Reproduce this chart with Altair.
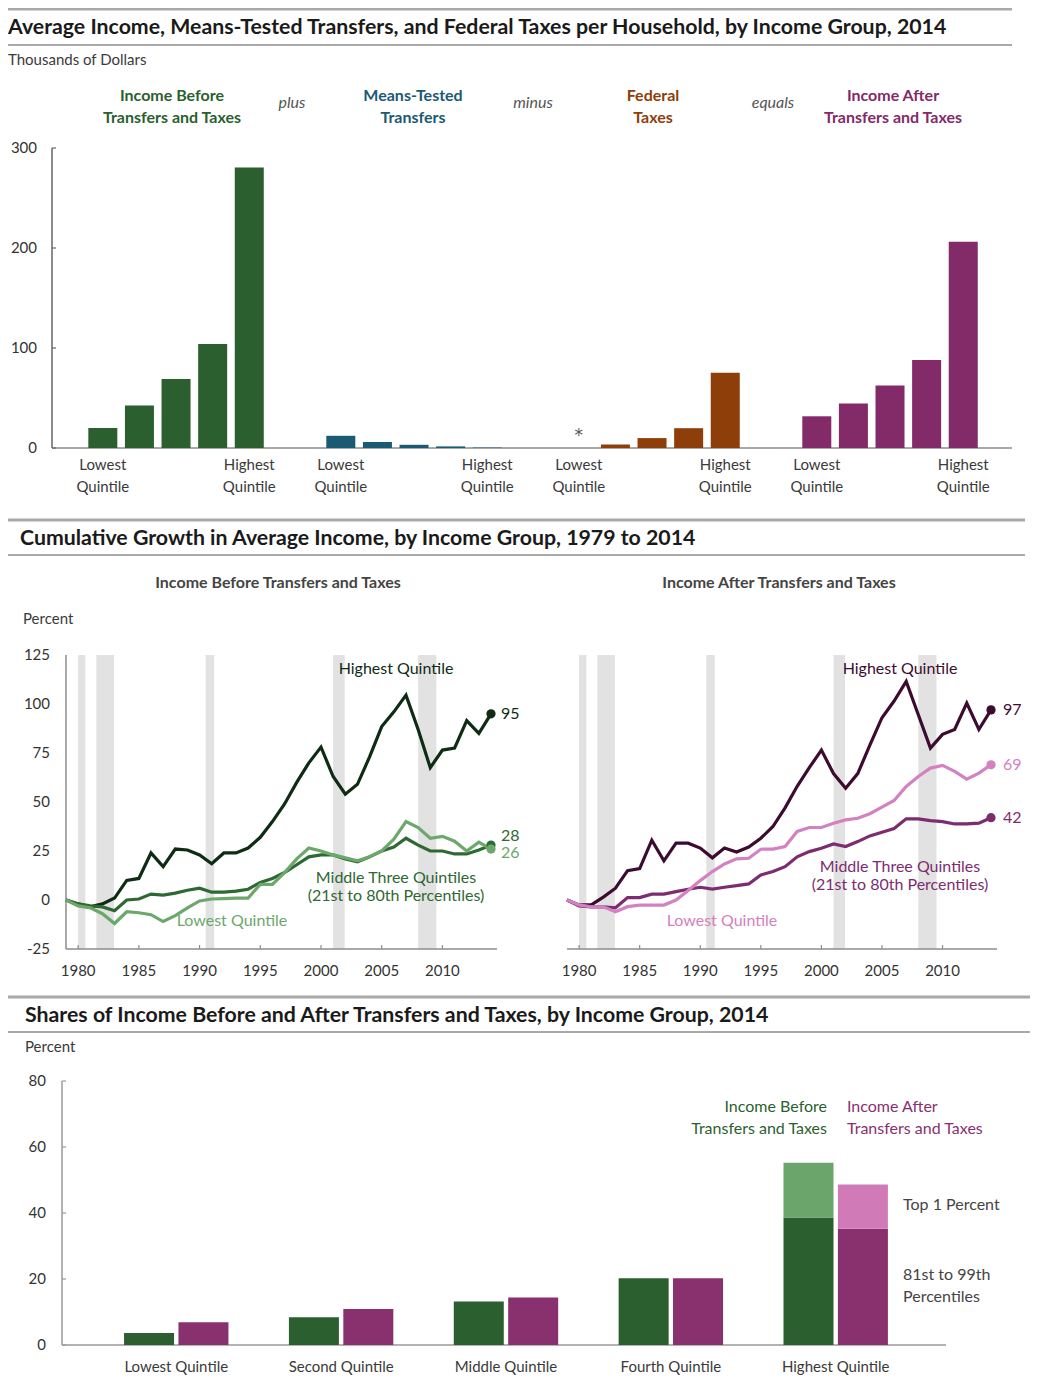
import altair as alt
import pandas as pd

W, H = 1026, 1377
FONT = "Liberation Sans Narrow, Lato, Liberation Sans, sans-serif"
TXT = "#3a3a3a"

# ---------------- data ----------------
quintile_names = ["Lowest Quintile", "Second Quintile", "Middle Quintile", "Fourth Quintile", "Highest Quintile"]
measure_names = ["Income Before Transfers and Taxes", "Means-Tested Transfers", "Federal Taxes",
                 "Income After Transfers and Taxes"]
# thousands of dollars, 2014
avg_before = [20.0, 42.4, 69.0, 104.0, 280.5]
avg_transfers = [12.2, 6.0, 3.2, 1.6, 0.4]
avg_taxes = [0.0, 3.5, 9.9, 19.8, 75.2]
avg_after = [31.7, 44.6, 62.4, 88.1, 206.2]

years = list(range(1979, 2015))
before_highest = [0, -2, -3.5, -2, 1, 10, 11, 24, 17, 26, 25.5, 23, 18.5, 24, 24, 26.5, 32, 40, 49, 60,
                  70, 78, 63, 54, 59, 73, 88.5, 96, 104.5, 87, 67.5, 76.5, 77.5, 91.5, 85, 95]
before_middle = [0, -2, -3, -3.5, -5.5, 0, 0.5, 3, 2.5, 3.5, 5, 6, 4, 4, 4.5, 5.5, 9, 11, 14, 18,
                 22, 23, 23, 21, 19.5, 22, 25, 27, 31.5, 28, 25, 25, 23.5, 23.5, 25.5, 28]
before_lowest = [0, -3, -4, -7, -12, -6, -6.5, -7.5, -11, -8, -4, -0.5, 0.5, 0.7, 1, 1, 8, 8, 14, 21,
                 26.5, 25, 23, 21.5, 20, 22, 25, 31, 40, 37, 31.5, 32.5, 30, 25, 29.5, 26]
after_highest = [0, -2.5, -2.5, 1.5, 6, 15, 16, 30.5, 20, 29, 29, 26.5, 21.5, 26.5, 24.5, 27, 31.5, 37.5,
                 47, 58, 67.5, 76.5, 64.5, 57, 64.5, 79, 93, 101.5, 111.5, 94.5, 77.5, 84.5, 87, 100.5, 87, 97]
after_middle = [0, -3, -3.5, -3.5, -4, 1.2, 1.2, 3, 3, 4.3, 5.5, 6.5, 5.6, 6.5, 7.3, 8.2, 12.8, 14.5, 17,
                22, 24.7, 26.4, 28.6, 27.3, 29.8, 32.7, 34.6, 36.5, 41.4, 41.4, 40.5, 40, 38.8, 38.8, 39.2, 42]
after_lowest = [0, -2.5, -3.5, -3.5, -6, -3.4, -2.6, -2.6, -2.6, 0, 4.8, 9.9, 14.5, 18.4, 21, 21.3, 25.9,
                26, 27.3, 35, 37, 37, 39.2, 40.9, 41.7, 44, 47.4, 50.8, 57.9, 63, 67.3, 68.7, 65.6, 61.7,
                64.7, 69]
recession_start = [1980.0, 1981.5, 1990.5, 2001.0, 2008.0]
recession_end = [1980.6, 1982.95, 1991.2, 2001.95, 2009.5]

# percent shares, 2014
share_before = [3.6, 8.4, 13.2, 20.2, 55.2]
share_after = [6.9, 10.9, 14.4, 20.2, 48.6]
top1_before = 16.6
top1_after = 13.4

# tick labels
dollar_ticks = [0, 100, 200, 300]
growth_ticks = [-25, 0, 25, 50, 75, 100, 125]
year_ticks = [1980, 1985, 1990, 1995, 2000, 2005, 2010]
share_ticks = [0, 20, 40, 60, 80]

# ---------------- colours ----------------
C_BEFORE = "#2b5f2f"
C_TRANSF = "#1a5a72"
C_TAX = "#8e3e08"
C_AFTER = "#832a68"
AXC = "#8c8c8c"

ONE = alt.Data(values=[{"k": 0}])


def label(s, x, y, size=15, color=TXT, weight="normal", align="left", style="normal", lh=None):
    props = dict(text=s, font=FONT, fontSize=size, color=color, fontWeight=weight, align=align,
                 fontStyle=style)
    if lh is not None:
        props.update(lineBreak="\n", lineHeight=lh, baseline="alphabetic")
    else:
        props.update(baseline="middle")
    return alt.Chart(ONE).mark_text(**props).encode(x=alt.value(x), y=alt.value(y))


def hrule(x1, x2, y, w, color="#a9a9a9"):
    return alt.Chart(ONE).mark_rule(color=color, strokeWidth=w).encode(
        x=alt.value(x1), x2=alt.value(x2), y=alt.value(y))


def y_axis(scale, ticks, xpx, lo, hi, color=AXC, tick_len=4, lab_gap=15, with_ticks=True):
    """Vertical axis drawn through the panel's y scale."""
    dom = alt.Chart(pd.DataFrame({"a0": [lo], "a1": [hi]})).mark_rule(color=color, strokeWidth=1.5).encode(
        x=alt.value(xpx), y=alt.Y("a0:Q", scale=scale, axis=None), y2="a1:Q")
    tdf = pd.DataFrame({"v": ticks, "lab": [str(t) for t in ticks]})
    labs = alt.Chart(tdf).mark_text(font=FONT, fontSize=15, color="#333", align="right", baseline="middle").encode(
        x=alt.value(xpx - lab_gap), y=alt.Y("v:Q", scale=scale, axis=None), text="lab:N")
    out = [dom, labs]
    if with_ticks:
        out.append(alt.Chart(tdf).mark_rule(color=color, strokeWidth=1.2).encode(
            x=alt.value(xpx), x2=alt.value(xpx + tick_len), y=alt.Y("v:Q", scale=scale, axis=None)))
    return out


def x_baseline(yscale, yv, x1, x2, color=AXC):
    return alt.Chart(pd.DataFrame({"v": [yv]})).mark_rule(color=color, strokeWidth=1.5).encode(
        x=alt.value(x1), x2=alt.value(x2), y=alt.Y("v:Q", scale=yscale, axis=None))


# ---------------- section 1 : average income bars ----------------
rows = []
for gi, (m, vals) in enumerate(zip(measure_names, [avg_before, avg_transfers, avg_taxes, avg_after])):
    for qi, v in enumerate(vals):
        rows.append({"measure": m, "qi": qi, "slot": 6.5 * gi + qi, "value": v, "base": 0.0,
                     "qlab": "Lowest\nQuintile" if qi == 0 else ("Highest\nQuintile" if qi == 4 else "")})
top_df = pd.DataFrame(rows)

xs_top = alt.Scale(domain=[-1.2514, 24.695], range=[44, 1004], nice=False, zero=False)
ys_top = alt.Scale(domain=[0, 300], range=[440, 140], nice=False, zero=False)
col_top = alt.Color("measure:N", scale=alt.Scale(domain=measure_names, range=[C_BEFORE, C_TRANSF, C_TAX, C_AFTER]),
                    legend=None)

bars_top = alt.Chart(top_df).mark_bar(size=29, orient="vertical").encode(
    x=alt.X("slot:Q", scale=xs_top, axis=None),
    y=alt.Y("value:Q", scale=ys_top, axis=None),
    y2="base:Q",
    color=col_top,
)
qlabels_top = alt.Chart(top_df).transform_filter(alt.FieldOneOfPredicate(field="qi", oneOf=[0, 4])).mark_text(
    font=FONT, fontSize=15, color=TXT, lineBreak="\n", lineHeight=22, baseline="alphabetic", align="center"
).encode(x=alt.X("slot:Q", scale=xs_top, axis=None), y=alt.value(462), text="qlab:N")
star = alt.Chart(top_df).transform_filter(
    (alt.datum.measure == "Federal Taxes") & (alt.datum.qi == 0)).mark_text(
    font="DejaVu Sans", fontSize=17, color="#555", baseline="middle", dy=-12, text="*"
).encode(x=alt.X("slot:Q", scale=xs_top, axis=None), y=alt.Y("value:Q", scale=ys_top, axis=None))
panel_top = alt.layer(
    x_baseline(ys_top, 0, 44, 1004),
    bars_top, qlabels_top, star,
    *y_axis(ys_top, dollar_ticks, 44, 0, 300, color="#666"),
)

# ---------------- section 2 : cumulative growth lines ----------------
series_names = ["Highest Quintile", "Middle Three Quintiles", "Lowest Quintile"]


def growth_df(h, m, l):
    d = []
    for name, vals in zip(series_names, [h, m, l]):
        for yr, v in zip(years, vals):
            d.append({"series": name, "year": yr, "growth": v})
    return pd.DataFrame(d)


left_df = growth_df(before_highest, before_middle, before_lowest)
right_df = growth_df(after_highest, after_middle, after_lowest)
rec_df = pd.DataFrame({"start": recession_start, "end": recession_end})
yt_df = pd.DataFrame({"yr": year_ticks, "lab": [str(y) for y in year_ticks]})

ys_line = alt.Scale(domain=[-25, 125], range=[941, 647], nice=False, zero=False)


def line_panel(df, xr, colors, yaxis, label_dys, label_dx):
    xs = alt.Scale(domain=[1979, 2014], range=xr, nice=False, zero=False)
    col = alt.Color("series:N", scale=alt.Scale(domain=series_names, range=colors), legend=None)
    rec = alt.Chart(rec_df).mark_rect(color="#e2e2e2").encode(
        x=alt.X("start:Q", scale=xs, axis=None), x2="end:Q", y=alt.value(647), y2=alt.value(941))
    base = x_baseline(ys_line, -25, xr[0], xr[1] + 6)
    xticks = alt.Chart(yt_df).mark_rule(color=AXC, strokeWidth=1.2).encode(
        x=alt.X("yr:Q", scale=xs, axis=None), y=alt.value(937), y2=alt.value(941))
    xlabs = alt.Chart(yt_df).mark_text(font=FONT, fontSize=15, color="#333", baseline="middle").encode(
        x=alt.X("yr:Q", scale=xs, axis=None), y=alt.value(963), text="lab:N")
    lines = alt.Chart(df).mark_line(strokeWidth=3.2, strokeJoin="miter").encode(
        x=alt.X("year:Q", scale=xs, axis=None),
        y=alt.Y("growth:Q", scale=ys_line, axis=None),
        color=col,
    )
    last = df[df["year"] == 2014].copy()
    last["lab"] = last["growth"].round().astype(int).astype(str)
    dots = alt.Chart(last).mark_circle(size=85, opacity=1).encode(
        x=alt.X("year:Q", scale=xs, axis=None), y=alt.Y("growth:Q", scale=ys_line, axis=None), color=col)
    layers = [rec, base, xticks, xlabs]
    if yaxis:
        layers += y_axis(ys_line, growth_ticks, xr[0], -25, 125, with_ticks=False, lab_gap=16)
    layers += [lines, dots]
    for name, dy in zip(series_names, label_dys):
        layers.append(alt.Chart(last).transform_filter(alt.datum.series == name).mark_text(
            font=FONT, fontSize=16, align="left", baseline="middle", dx=label_dx, dy=dy).encode(
            x=alt.X("year:Q", scale=xs, axis=None), y=alt.Y("growth:Q", scale=ys_line, axis=None),
            text="lab:N", color=col))
    return alt.layer(*layers)


G_HI, G_MID, G_LO = "#0e2c14", "#2e6833", "#6ca86c"
P_HI, P_MID, P_LO = "#3c0b30", "#7d2c6f", "#d481c1"
panel_left = line_panel(left_df, [58, 483], [G_HI, G_MID, G_LO], True, [0, -9, 4], 10)
panel_right = line_panel(right_df, [559, 983], [P_HI, P_MID, P_LO], False, [0, 0, 0], 12)

# ---------------- section 3 : shares ----------------
srows = []
for g, q in enumerate(quintile_names):
    if g == 4:
        srows.append({"q": q, "pos": g - 0.165, "y0": 0, "y1": share_before[g] - top1_before, "part": "before"})
        srows.append({"q": q, "pos": g - 0.165, "y0": share_before[g] - top1_before, "y1": share_before[g], "part": "before_top1"})
        srows.append({"q": q, "pos": g + 0.165, "y0": 0, "y1": share_after[g] - top1_after, "part": "after"})
        srows.append({"q": q, "pos": g + 0.165, "y0": share_after[g] - top1_after, "y1": share_after[g], "part": "after_top1"})
    else:
        srows.append({"q": q, "pos": g - 0.165, "y0": 0, "y1": share_before[g], "part": "before"})
        srows.append({"q": q, "pos": g + 0.165, "y0": 0, "y1": share_after[g], "part": "after"})
share_df = pd.DataFrame(srows)
cat_df = pd.DataFrame({"q": quintile_names, "g": list(range(5))})

xs_b = alt.Scale(domain=[-0.6627, 4.6387], range=[54, 938], nice=False, zero=False)
ys_b = alt.Scale(domain=[0, 80], range=[1337, 1073], nice=False, zero=False)
bars_b = alt.Chart(share_df).mark_bar(size=50, orient="vertical").encode(
    x=alt.X("pos:Q", scale=xs_b, axis=None),
    y=alt.Y("y1:Q", scale=ys_b, axis=None),
    y2="y0:Q",
    color=alt.Color("part:N", scale=alt.Scale(domain=["before", "after", "before_top1", "after_top1"],
                                              range=[C_BEFORE, "#89306f", "#6ba56b", "#d07ab8"]), legend=None),
)
cats_b = alt.Chart(cat_df).mark_text(font=FONT, fontSize=15, color=TXT, baseline="middle").encode(
    x=alt.X("g:Q", scale=xs_b, axis=None), y=alt.value(1359), text="q:N")
panel_bottom = alt.layer(
    x_baseline(ys_b, 0, 54, 938, color="#9a9a9a"),
    bars_b, cats_b,
    *y_axis(ys_b, share_ticks, 54, 0, 80, color="#9a9a9a", lab_gap=16),
)

# ---------------- headers & annotations ----------------
rules = [hrule(0, 1004, 1, 3), hrule(0, 1004, 37, 2), hrule(0, 1017, 512, 3), hrule(0, 1017, 547, 2),
         hrule(0, 1022, 989, 3), hrule(0, 1022, 1024, 2)]
ann = [
    label("Average Income, Means-Tested Transfers, and Federal Taxes per Household, by Income Group, 2014",
          0, 20, size=21.3, color="#1a1a1a", weight="bold"),
    label("Thousands of Dollars", 0, 52, size=15),
    label("Income Before\nTransfers and Taxes", 164, 93, size=16, color=C_BEFORE, weight="bold", align="center", lh=22),
    label("plus", 284, 95, size=16, color="#555", style="italic", align="center"),
    label("Means-Tested\nTransfers", 405, 93, size=16, color=C_TRANSF, weight="bold", align="center", lh=22),
    label("minus", 525, 95, size=16, color="#555", style="italic", align="center"),
    label("Federal\nTaxes", 645, 93, size=16, color=C_TAX, weight="bold", align="center", lh=22),
    label("equals", 765, 95, size=16, color="#555", style="italic", align="center"),
    label("Income After\nTransfers and Taxes", 885, 93, size=16, color=C_AFTER, weight="bold", align="center", lh=22),

    label("Cumulative Growth in Average Income, by Income Group, 1979 to 2014", 12, 531, size=21.3,
          color="#1a1a1a", weight="bold"),
    label("Income Before Transfers and Taxes", 270, 575, size=16, color="#444", weight="bold", align="center"),
    label("Income After Transfers and Taxes", 771, 575, size=16, color="#444", weight="bold", align="center"),
    label("Percent", 15, 611, size=15),
    label("Highest Quintile", 388, 661, size=16, color=G_HI, align="center"),
    label("Middle Three Quintiles\n(21st to 80th Percentiles)", 388, 875, size=16, color=G_MID, align="center", lh=18),
    label("Lowest Quintile", 224, 913, size=16, color=G_LO, align="center"),
    label("Highest Quintile", 892, 661, size=16, color=P_HI, align="center"),
    label("Middle Three Quintiles\n(21st to 80th Percentiles)", 892, 864, size=16, color=P_MID, align="center", lh=18),
    label("Lowest Quintile", 714, 913, size=16, color=P_LO, align="center"),

    label("Shares of Income Before and After Transfers and Taxes, by Income Group, 2014", 17, 1008, size=21.3,
          color="#1a1a1a", weight="bold"),
    label("Percent", 17, 1039, size=15),
    label("Income Before\nTransfers and Taxes", 819, 1104, size=16, color=C_BEFORE, align="right", lh=22),
    label("Income After\nTransfers and Taxes", 839, 1104, size=16, color="#89306f", align="left", lh=22),
    label("Top 1 Percent", 895, 1197, size=16, color="#444"),
    label("81st to 99th\nPercentiles", 895, 1272, size=16, color="#444", lh=22),
]

chart = alt.layer(*rules, panel_top, panel_left, panel_right, panel_bottom, *ann).resolve_scale(
    x="independent", y="independent", color="independent"
).properties(
    width=W, height=H, padding=0, autosize=alt.AutoSizeParams(type="none")
).configure_view(stroke=None)

chart.save("out.html", embed_options={"renderer": "svg", "actions": False})
